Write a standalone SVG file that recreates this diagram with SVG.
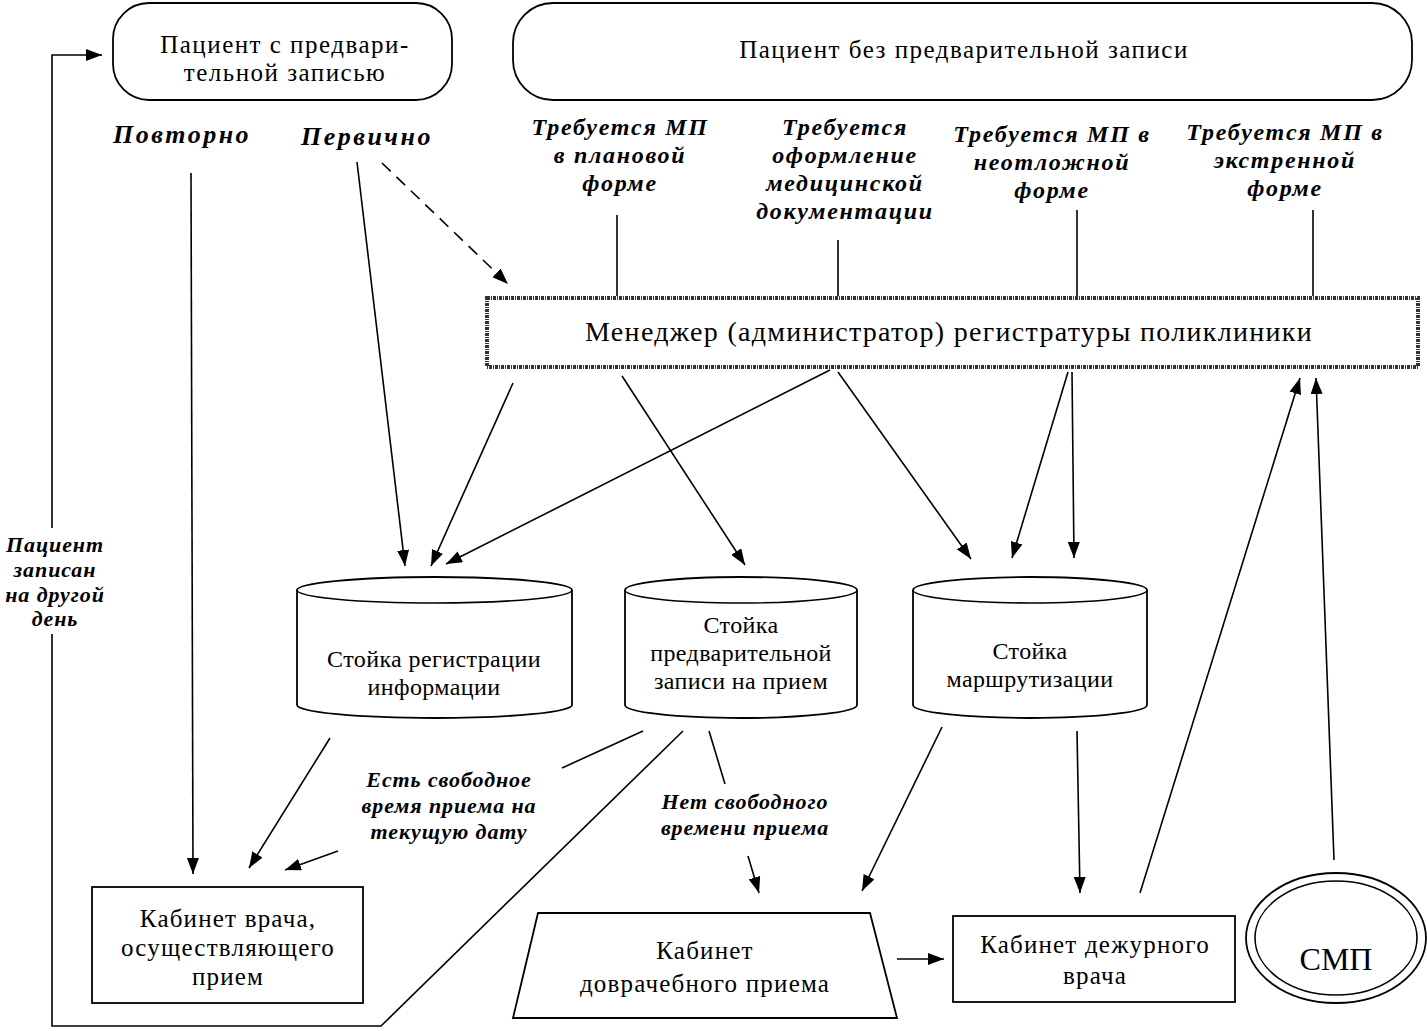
<svg xmlns="http://www.w3.org/2000/svg" width="1427" height="1031" viewBox="0 0 1427 1031">
<defs>
<marker id="arr" markerUnits="userSpaceOnUse" viewBox="0 0 16 12" refX="16" refY="6" markerWidth="16" markerHeight="12" orient="auto">
<path d="M0,0 L16,6 L0,12 Z" fill="#000"/>
</marker>
<style>
.n{fill:#fff;stroke:#000;stroke-width:1.8}
.t{font-family:"Liberation Serif",serif;font-size:24px;fill:#000;text-anchor:middle}
.tp{font-size:25px;letter-spacing:1.5px}
.tm{font-size:28px;letter-spacing:1.3px}
.tc{font-size:24px;letter-spacing:0.4px}
.tb{font-size:25px;letter-spacing:1.2px}
.ts{font-size:32px}
.l{font-family:"Liberation Serif",serif;font-size:22px;letter-spacing:0.9px;font-weight:bold;font-style:italic;fill:#000;text-anchor:middle}
.lb{font-size:26px;letter-spacing:2.5px}
.lt{font-size:24px;letter-spacing:1.7px}
.c{fill:none;stroke:#000;stroke-width:1.6}
.a{fill:none;stroke:#000;stroke-width:1.6;marker-end:url(#arr)}
</style>
</defs>
<rect width="1427" height="1031" fill="#fff"/>

<g id="connectors">
<path class="a" d="M683,731 L381,1026 L52,1026 L52,55 L102,55"/>
<path class="a" d="M191,173 L193,874"/>
<path class="a" d="M357,162 L405,566"/>
<path class="a" d="M382,163 L508,284" stroke-dasharray="12,8"/>
<path class="c" d="M617,215 L617,296"/>
<path class="c" d="M838,240 L838,296"/>
<path class="c" d="M1077,210 L1077,296"/>
<path class="c" d="M1313,210 L1313,296"/>
<path class="a" d="M513,383 L431,566"/>
<path class="a" d="M830,370 L446,564"/>
<path class="a" d="M622,376 L745,565"/>
<path class="a" d="M838,372 L971,559"/>
<path class="a" d="M1068,372 L1012,558"/>
<path class="a" d="M1072,372 L1074,558"/>
<path class="a" d="M330,738 L249,868"/>
<path class="c" d="M643,731 L562,768"/>
<path class="a" d="M338,851 L285,870"/>
<path class="c" d="M709,731 L725,784"/>
<path class="a" d="M748,856 L759,893"/>
<path class="a" d="M942,727 L862,891"/>
<path class="a" d="M1077,731 L1080,893"/>
<path class="a" d="M897,959 L944,959"/>
<path class="a" d="M1140,893 L1300,378"/>
<path class="a" d="M1334,860 L1316,378"/>
</g>

<g id="label-povtorno"><text class="l lb" x="182" y="143">Повторно</text></g>
<g id="label-pervichno"><text class="l lb" x="367" y="145">Первично</text></g>
<g id="label-planovaya"><text class="l lt" x="620" y="135">Требуется МП</text><text class="l lt" x="620" y="163">в плановой</text><text class="l lt" x="620" y="191">форме</text></g>
<g id="label-dokumentacii"><text class="l lt" x="845" y="135">Требуется</text><text class="l lt" x="845" y="163">оформление</text><text class="l lt" x="845" y="191">медицинской</text><text class="l lt" x="845" y="219">документации</text></g>
<g id="label-neotlozhnaya"><text class="l lt" x="1052" y="142">Требуется МП в</text><text class="l lt" x="1052" y="170">неотложной</text><text class="l lt" x="1052" y="198">форме</text></g>
<g id="label-ekstrennaya"><text class="l lt" x="1285" y="140">Требуется МП в</text><text class="l lt" x="1285" y="168">экстренной</text><text class="l lt" x="1285" y="196">форме</text></g>
<g id="label-drugoy-den"><rect x="2" y="528" width="106" height="106" fill="#fff"/><text class="l" x="55" y="552">Пациент</text><text class="l" x="55" y="577">записан</text><text class="l" x="55" y="602">на другой</text><text class="l" x="55" y="626">день</text></g>
<g id="label-est"><text class="l" x="449" y="787">Есть свободное</text><text class="l" x="449" y="813">время приема на</text><text class="l" x="449" y="839">текущую дату</text></g>
<g id="label-net"><text class="l" x="745" y="809">Нет свободного</text><text class="l" x="745" y="835">времени приема</text></g>

<g id="node-pacient-zapis">
<rect class="n" x="113" y="3" width="339" height="97" rx="36"/>
<text class="t tp" x="285" y="53">Пациент с предвари-</text>
<text class="t tp" x="285" y="81">тельной записью</text>
</g>
<g id="node-pacient-bez">
<rect class="n" x="513" y="3" width="899" height="97" rx="40"/>
<text class="t tp" x="964" y="58">Пациент без предварительной записи</text>
</g>
<g id="node-manager">
<rect x="487" y="298" width="931" height="69" fill="#fff" stroke="#333" stroke-width="4" stroke-dasharray="3,1,1,1"/>
<text class="t tm" x="949" y="341">Менеджер (администратор) регистратуры поликлиники</text>
</g>
<g id="node-stoyka-reg">
<path class="n" d="M297,590 L297,705 A137.5,13 0 0,0 572,705 L572,590 A137.5,13 0 0,0 297,590 Z"/>
<path class="c" d="M297,590 A137.5,13 0 0,0 572,590"/>
<text class="t tc" x="434" y="667">Стойка регистрации</text>
<text class="t tc" x="434" y="695">информации</text>
</g>
<g id="node-stoyka-pred">
<path class="n" d="M625,590 L625,705 A116,13 0 0,0 857,705 L857,590 A116,13 0 0,0 625,590 Z"/>
<path class="c" d="M625,590 A116,13 0 0,0 857,590"/>
<text class="t tc" x="741" y="633">Стойка</text>
<text class="t tc" x="741" y="661">предварительной</text>
<text class="t tc" x="741" y="689">записи на прием</text>
</g>
<g id="node-stoyka-marsh">
<path class="n" d="M913,590 L913,705 A117,13 0 0,0 1147,705 L1147,590 A117,13 0 0,0 913,590 Z"/>
<path class="c" d="M913,590 A117,13 0 0,0 1147,590"/>
<text class="t tc" x="1030" y="659">Стойка</text>
<text class="t tc" x="1030" y="687">маршрутизации</text>
</g>
<g id="node-kabinet-vracha">
<rect class="n" x="92" y="887" width="271" height="116"/>
<text class="t tb" x="228" y="927">Кабинет врача,</text>
<text class="t tb" x="228" y="956">осуществляющего</text>
<text class="t tb" x="228" y="985">прием</text>
</g>
<g id="node-dovrachebny">
<path class="n" d="M538,913 L870,913 L897,1018 L513,1018 Z"/>
<text class="t tb" x="705" y="959">Кабинет</text>
<text class="t tb" x="705" y="992">доврачебного приема</text>
</g>
<g id="node-dezhurny">
<rect class="n" x="953" y="916" width="282" height="86"/>
<text class="t tb" x="1095" y="953">Кабинет дежурного</text>
<text class="t tb" x="1095" y="984">врача</text>
</g>
<g id="node-smp">
<ellipse class="n" cx="1336" cy="938" rx="90" ry="65"/>
<ellipse class="c" cx="1336" cy="938" rx="81" ry="57"/>
<text class="t ts" x="1336" y="970">СМП</text>
</g>
</svg>
